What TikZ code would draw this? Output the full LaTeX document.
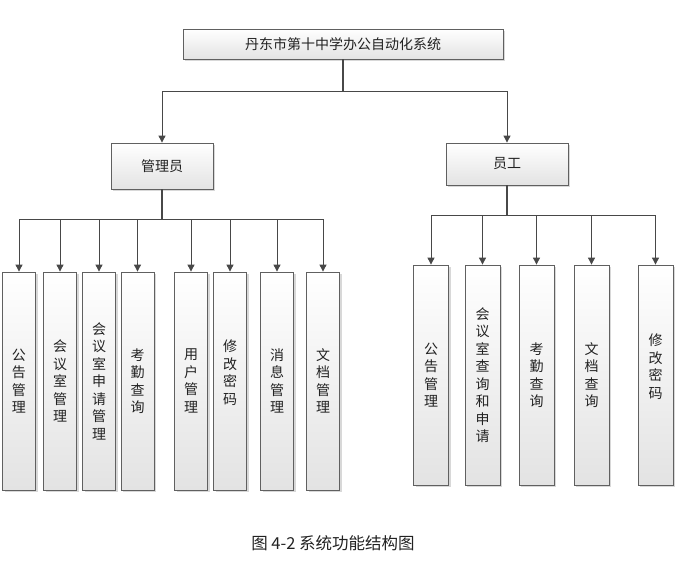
\documentclass[tikz,border=0pt]{standalone}
\usepackage{fontspec}
\newfontfamily\cjk{Noto Sans CJK SC}
\usepackage{xcolor}
\usetikzlibrary{arrows.meta, positioning, shadows}
\definecolor{linegray}{HTML}{484848}
\definecolor{edgegray}{HTML}{606060}
\definecolor{textgray}{HTML}{222222}

\begin{document}
\begin{tikzpicture}[x=1pt, y=-1pt,
  box/.style={draw=edgegray, line width=0.8pt, top color=white, bottom color=gray!22,
    drop shadow={shadow xshift=2pt, shadow yshift=-2pt, fill=gray!60, opacity=0.5},
    text=textgray, font=\cjk\fontsize{14}{17.5}\selectfont, inner sep=0pt, align=center},
  leafbox/.style={box, minimum width=33pt, minimum height=218pt},
  link/.style={draw=linegray, line width=0.9pt, -{Triangle[length=7pt, width=7pt]}},
  stem/.style={draw=linegray, line width=1.5pt}
]
  \useasboundingbox (0,0) rectangle (675,562);

  \node[box, minimum width=320pt, minimum height=30pt] (sys) at (343,44) {丹东市第十中学办公自动化系统};
  \node[box, minimum width=102pt, minimum height=46pt] (admin) at (162,166) {管理员};
  \node[box, minimum width=122pt, minimum height=42pt] (staff) at (507,164) {员工};

  \coordinate (sys-bus) at (343,91);
  \draw[stem] (sys.south) -- (sys-bus);
  \draw[link] (sys-bus) -| (admin.north);
  \draw[link] (sys-bus) -| (staff.north);

  % admin functions
  \coordinate (admin-bus) at (162,219);
  \draw[stem] (admin.south) -- (admin-bus);
  \foreach \i/\x/\txt in {
    1/19/公\\告\\管\\理,
    2/60/会\\议\\室\\管\\理,
    3/99/会\\议\\室\\申\\请\\管\\理,
    4/137.5/考\\勤\\查\\询,
    5/191/用\\户\\管\\理,
    6/230/修\\改\\密\\码\\~,
    7/277/消\\息\\管\\理,
    8/323/文\\档\\管\\理
  } {
    \node[leafbox] (admin-\i) at (\x,381) {\txt};
    \draw[link] (admin-bus) -| (admin-\i.north);
  }

  % staff functions
  \coordinate (staff-bus) at (507,215);
  \draw[stem] (staff.south) -- (staff-bus);
  \foreach \i/\x/\txt in {
    1/431/公\\告\\管\\理,
    2/482.5/会\\议\\室\\查\\询\\和\\申\\请,
    3/536.5/考\\勤\\查\\询,
    4/591.5/文\\档\\查\\询,
    5/655.5/修\\改\\密\\码\\~
  } {
    \node[leafbox, minimum width=35pt, minimum height=220pt] (staff-\i) at (\x,375) {\txt};
    \draw[link] (staff-bus) -| (staff-\i.north);
  }

  \node[font=\cjk\fontsize{16.5}{20}\selectfont, text=textgray] (caption) at (333,543) {图 4-2 系统功能结构图};
\end{tikzpicture}
\end{document}
